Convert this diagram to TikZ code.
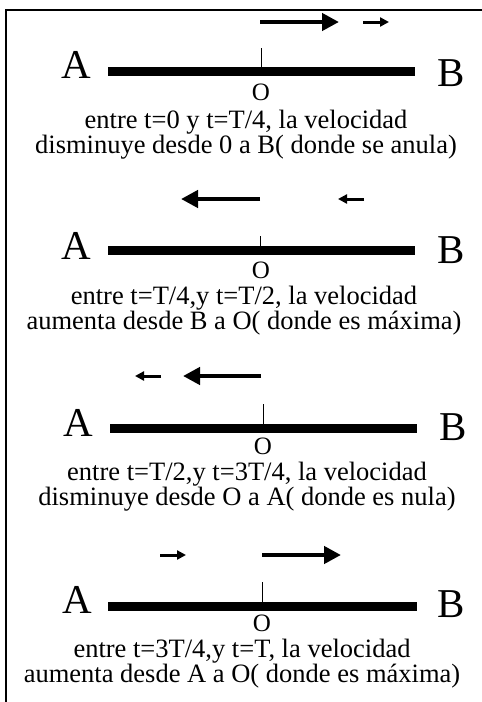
\documentclass[tikz,border=0pt]{standalone}
\usepackage{fontspec}
\setmainfont{Liberation Serif}
\usetikzlibrary{arrows.meta}
\begin{document}
\begin{tikzpicture}[x=1pt,y=-1pt,
  bar/.style={line width=9pt},
  tick/.style={line width=0.8pt},
  bigarrow/.style={line width=4.5pt,-{Triangle[length=17pt,width=17pt]}},
  smallarrow/.style={line width=3pt,-{Triangle[length=9pt,width=9pt]}},
  endlabel/.style={font=\fontsize{41}{41}\selectfont,inner sep=0pt},
  olabel/.style={font=\fontsize{25}{25}\selectfont,inner sep=0pt},
  caption/.style={font=\fontsize{26.5}{22}\selectfont,inner sep=0pt,align=center,anchor=north}]
\useasboundingbox (0,0) rectangle (482,702);
\draw[line width=2pt] (5.5,702) -- (5.5,9.5) -- (482,9.5);
% ---------- panel 1 ----------
\node[endlabel] (A1) at (76,65) {A};
\node[endlabel] (B1) at (451,73) {B};
\coordinate (L1) at (108,71.5); \coordinate (R1) at (415,71.5);
\draw[bar] (L1) -- (R1);
\coordinate (O1) at (261,67); \coordinate (T1) at (261,48);
\draw[tick] (O1) -- (T1);
\node[olabel] (o1) at (261,92.5) {O};
\node[caption] (c1) at (246,109.5) {entre t=0 y t=T/4, la velocidad\\disminuye desde 0 a B( donde se anula)};
\coordinate (p1s) at (260,22); \coordinate (p1e) at (339,22);
\draw[bigarrow] (p1s) -- (p1e);
\coordinate (q1s) at (363,22); \coordinate (q1e) at (389,22);
\draw[smallarrow] (q1s) -- (q1e);
% ---------- panel 2 ----------
\node[endlabel] (A2) at (76,246) {A};
\node[endlabel] (B2) at (451,250) {B};
\coordinate (L2) at (108,250); \coordinate (R2) at (415,250);
\draw[bar] (L2) -- (R2);
\coordinate (O2) at (260,246); \coordinate (T2) at (260,236);
\draw[tick] (O2) -- (T2);
\node[olabel] (o2) at (261,270.5) {O};
\node[caption] (c2) at (244,286) {entre t=T/4,y t=T/2, la velocidad\\aumenta desde B a O( donde es máxima)};
\coordinate (p2s) at (260,199); \coordinate (p2e) at (181,199);
\draw[bigarrow] (p2s) -- (p2e);
\coordinate (q2s) at (364,199); \coordinate (q2e) at (338,199);
\draw[smallarrow] (q2s) -- (q2e);
% ---------- panel 3 ----------
\node[endlabel] (A3) at (78,423) {A};
\node[endlabel] (B3) at (453,427) {B};
\coordinate (L3) at (110,428); \coordinate (R3) at (417,428);
\draw[bar] (L3) -- (R3);
\coordinate (O3) at (263,424); \coordinate (T3) at (263,404);
\draw[tick] (O3) -- (T3);
\node[olabel] (o3) at (263,446) {O};
\node[caption] (c3) at (247,462) {entre t=T/2,y t=3T/4, la velocidad\\disminuye desde O a A( donde es nula)};
\coordinate (p3s) at (261,376); \coordinate (p3e) at (183,376);
\draw[bigarrow] (p3s) -- (p3e);
\coordinate (q3s) at (161,376); \coordinate (q3e) at (135,376);
\draw[smallarrow] (q3s) -- (q3e);
% ---------- panel 4 ----------
\node[endlabel] (A4) at (77,600) {A};
\node[endlabel] (B4) at (451,604) {B};
\coordinate (L4) at (108,606); \coordinate (R4) at (417,606);
\draw[bar] (L4) -- (R4);
\coordinate (O4) at (262,602); \coordinate (T4) at (262,582);
\draw[tick] (O4) -- (T4);
\node[olabel] (o4) at (262,623.5) {O};
\node[caption] (c4) at (242,639) {entre t=3T/4,y t=T, la velocidad\\aumenta desde A a O( donde es máxima)};
\coordinate (p4s) at (262,555); \coordinate (p4e) at (341,555);
\draw[bigarrow] (p4s) -- (p4e);
\coordinate (q4s) at (160,555); \coordinate (q4e) at (186,555);
\draw[smallarrow] (q4s) -- (q4e);
\end{tikzpicture}
\end{document}
